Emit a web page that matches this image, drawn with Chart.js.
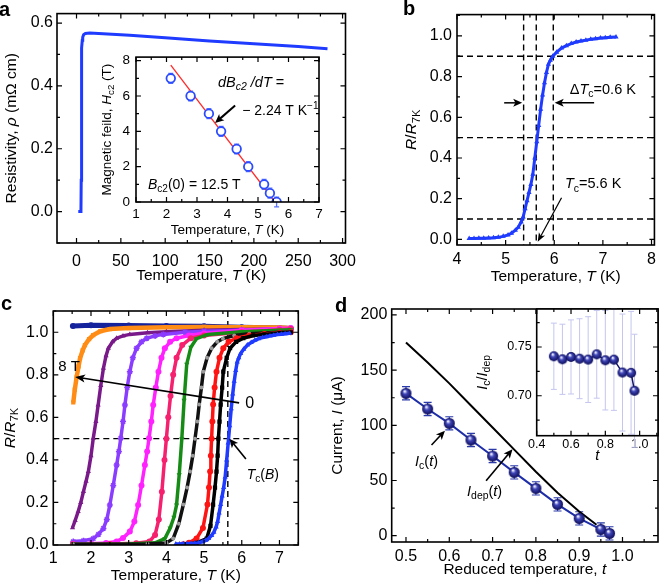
<!DOCTYPE html>
<html>
<head>
<meta charset="utf-8">
<script src="https://cdn.jsdelivr.net/npm/chart.js@4.4.0/dist/chart.umd.min.js"></script>
<style>
  body { margin: 0; background: #fff; width: 661px; height: 585px; position: relative; overflow: hidden; }
  canvas { position: absolute; }
</style>
</head>
<body>
<canvas id="a" width="365" height="290" style="left:0;top:0"></canvas>
<canvas id="ai" width="260" height="200" style="left:90px;top:43px"></canvas>
<canvas id="b" width="266" height="290" style="left:395px;top:0"></canvas>
<canvas id="c" width="305" height="290" style="left:0;top:295px"></canvas>
<canvas id="d" width="331" height="290" style="left:330px;top:295px"></canvas>
<canvas id="di" width="191" height="175" style="left:470px;top:295px"></canvas>
<script>
// ---- panel a: resistivity vs temperature
const aT = [2, 4.5, 5.0, 5.3, 5.5, 5.7, 6, 6.5, 7, 8, 10, 15, 30, 60, 100, 150, 200, 250, 283];
const aRho = [0, 0, 0.002, 0.1, 0.3, 0.45, 0.52, 0.545, 0.555, 0.563, 0.567, 0.568, 0.566, 0.561, 0.553, 0.543, 0.534, 0.525, 0.518];
const aXTicks = [0, 50, 100, 150, 200, 250, 300];
const aYTicks = [0, 0.2, 0.4, 0.6];

// ---- panel a inset: upper critical field
const hT = [2.14, 2.79, 3.39, 3.79, 4.30, 4.68, 5.20, 5.39, 5.61];
const hB = [7, 6, 5, 4, 3, 2, 1, 0.5, 0];
const hErr = [0.28, 0.28, 0.28, 0.28, 0.28, 0.28, 0.28, 0.28, 0.28];
const fitT = [2.14, 5.56];
const fitB = [7.74, 0];
const aiXTicks = [1, 2, 3, 4, 5, 6, 7];
const aiYTicks = [0, 2, 4, 6, 8];

// ---- panel b: zero-field transition
const bT = [4.25, 4.35, 4.45, 4.55, 4.65, 4.75, 4.85, 4.95, 5.05, 5.12, 5.2, 5.26, 5.32, 5.36, 5.40, 5.44, 5.48, 5.52, 5.56, 5.60, 5.64, 5.68, 5.72, 5.76, 5.80, 5.84, 5.88, 5.92, 5.97, 6.05, 6.15, 6.25, 6.35, 6.45, 6.55, 6.65, 6.75, 6.85, 6.95, 7.05, 7.15, 7.27];
const bR = [0.005, 0.005, 0.006, 0.006, 0.007, 0.008, 0.01, 0.015, 0.022, 0.03, 0.045, 0.06, 0.085, 0.11, 0.15, 0.19, 0.23, 0.27, 0.32, 0.40, 0.48, 0.56, 0.64, 0.71, 0.77, 0.82, 0.86, 0.88, 0.90, 0.92, 0.94, 0.952, 0.962, 0.97, 0.975, 0.979, 0.983, 0.986, 0.989, 0.991, 0.993, 0.995];
const bVLines = [5.37, 5.63, 5.98];
const bHLines = [0.1, 0.5, 0.9];
const bXTicks = [4, 5, 6, 7, 8];
const bYTicks = [0, 0.2, 0.4, 0.6, 0.8, 1.0];

// ---- panel c: transitions in field (0 T ... 8 T, plus normal state)
const c05T = [4.5, 4.8, 5.07, 5.17, 5.24, 5.29, 5.33, 5.36, 5.38, 5.41, 5.44, 5.48, 5.51, 5.6, 5.69, 5.85, 6.04, 6.3, 6.6, 7.0, 7.3];
const c05R = [0.004, 0.01, 0.03, 0.09, 0.19, 0.27, 0.345, 0.42, 0.5, 0.58, 0.66, 0.74, 0.815, 0.88, 0.925, 0.955, 0.972, 0.985, 0.99, 0.997, 1.0];
const c1T = [4.45, 4.6, 4.8, 4.97, 5.09, 5.13, 5.16, 5.18, 5.2, 5.22, 5.24, 5.28, 5.33, 5.41, 5.51, 5.65, 5.86, 6.2, 6.6, 7.0, 7.3];
const c1R = [0.004, 0.01, 0.03, 0.08, 0.19, 0.27, 0.345, 0.42, 0.5, 0.58, 0.66, 0.74, 0.815, 0.88, 0.925, 0.955, 0.972, 0.985, 0.992, 0.998, 1.0];
const c2T = [1.52, 3.5, 4.0, 4.18, 4.33, 4.45, 4.55, 4.63, 4.70, 4.76, 4.82, 4.87, 4.93, 4.98, 5.08, 5.2, 5.35, 5.5, 5.8, 6.2, 7.0, 7.3];
const c2R = [0.004, 0.005, 0.01, 0.03, 0.1, 0.19, 0.27, 0.345, 0.42, 0.5, 0.58, 0.66, 0.74, 0.815, 0.88, 0.925, 0.955, 0.97, 0.985, 0.993, 1.0, 1.0];
const c3T = [1.52, 3.0, 3.7, 3.96, 4.1, 4.2, 4.27, 4.34, 4.41, 4.47, 4.54, 4.65, 4.80, 5.1, 6.0, 7.0, 7.3];
const c3R = [0.004, 0.005, 0.01, 0.03, 0.08, 0.13, 0.188, 0.33, 0.5, 0.68, 0.85, 0.93, 0.97, 0.99, 1.003, 1.01, 1.012];
const c4T = [1.52, 2.5, 3.2, 3.55, 3.70, 3.80, 3.88, 3.95, 4.0, 4.05, 4.11, 4.18, 4.27, 4.42, 4.65, 5.0, 6.0, 7.0, 7.3];
const c4R = [0.004, 0.005, 0.008, 0.016, 0.047, 0.12, 0.25, 0.40, 0.5, 0.6, 0.7, 0.8, 0.88, 0.94, 0.972, 0.985, 1.0, 1.012, 1.015];
const c5T = [1.52, 2.0, 2.4, 2.68, 2.85, 3.03, 3.15, 3.25, 3.34, 3.43, 3.49, 3.54, 3.60, 3.65, 3.72, 3.79, 3.87, 3.96, 4.1, 4.27, 4.6, 5.0, 6.0, 7.0, 7.3];
const c5R = [0.005, 0.006, 0.009, 0.016, 0.033, 0.063, 0.11, 0.188, 0.28, 0.376, 0.44, 0.502, 0.58, 0.658, 0.74, 0.815, 0.88, 0.925, 0.955, 0.972, 0.985, 0.995, 1.01, 1.018, 1.02];
const c6T = [1.53, 1.8, 2.06, 2.2, 2.33, 2.42, 2.50, 2.59, 2.68, 2.74, 2.79, 2.85, 2.90, 2.96, 3.03, 3.11, 3.21, 3.34, 3.48, 3.7, 3.92, 4.5, 5.0, 6.0, 7.0, 7.3];
const c6R = [0.016, 0.02, 0.03, 0.05, 0.078, 0.12, 0.188, 0.28, 0.376, 0.44, 0.502, 0.58, 0.658, 0.74, 0.815, 0.88, 0.925, 0.955, 0.972, 0.983, 0.99, 1.0, 1.005, 1.01, 1.015, 1.015];
const c7T = [1.51, 1.58, 1.66, 1.73, 1.80, 1.87, 1.93, 2.0, 2.06, 2.13, 2.19, 2.26, 2.33, 2.40, 2.46, 2.57, 2.68, 2.85, 3.03, 3.5, 4.0, 5.0, 6.0, 7.0, 7.3];
const c7R = [0.081, 0.115, 0.157, 0.2, 0.251, 0.3, 0.345, 0.42, 0.502, 0.58, 0.658, 0.75, 0.831, 0.89, 0.925, 0.955, 0.972, 0.983, 0.99, 0.998, 1.003, 1.01, 1.013, 1.015, 1.015];
const c8T = [1.53, 1.57, 1.62, 1.67, 1.71, 1.78, 1.84, 1.95, 2.06, 2.25, 2.5, 3.0, 4.0, 5.0, 6.0, 7.0, 7.3];
const c8R = [0.67, 0.73, 0.79, 0.84, 0.878, 0.915, 0.94, 0.968, 0.987, 1.005, 1.015, 1.02, 1.024, 1.025, 1.024, 1.022, 1.02];
const c9T = [1.52, 2.0, 3.0, 4.0, 5.0, 6.0, 7.0, 7.3];
const c9R = [1.030, 1.033, 1.032, 1.030, 1.028, 1.024, 1.020, 1.018];
const cTc = 5.63;
const cHalf = 0.5;
const cXTicks = [1, 2, 3, 4, 5, 6, 7];
const cYTicks = [0, 0.2, 0.4, 0.6, 0.8, 1.0];

// ---- panel d: critical and depairing currents
const dT = [0.5, 0.55, 0.6, 0.65, 0.7, 0.75, 0.8, 0.85, 0.9, 0.95, 0.97];
const dIc = [129, 114.8, 101.8, 86.7, 72.2, 57.4, 42.9, 28.4, 15.7, 5.7, 2.1];
const dIcErr = [6, 6, 6, 6, 6, 6, 6, 6, 6, 6, 6];
const dTdep = [0.5, 0.55, 0.6, 0.65, 0.7, 0.75, 0.8, 0.85, 0.9, 0.94];
const dIdep = [175, 157, 138, 118, 98, 78, 58, 39, 22, 10];
const dRatio = [0.7405, 0.7374, 0.7398, 0.738, 0.7371, 0.7425, 0.7364, 0.737, 0.7238, 0.7235, 0.7051];
const dRatioErr = [0.034, 0.036, 0.038, 0.041, 0.044, 0.045, 0.051, 0.052, 0.06, 0.063, 0.058];
const dXTicks = [0.5, 0.6, 0.7, 0.8, 0.9, 1.0];
const dYTicks = [0, 50, 100, 150, 200];
const diXTicks = [0.4, 0.6, 0.8, 1.0];
const diYTicks = [0.70, 0.75];

const FONT = '"Liberation Sans", Arial, sans-serif';
Chart.defaults.font.family = FONT;
Chart.defaults.color = '#000';

const pts = (xs, ys) => xs.map((x, i) => ({x, y: ys[i]}));

function fontOf(size, fl) {
  return (fl.includes('i') ? 'italic ' : '') + size + 'px ' + FONT;
}

// text with italic / sub / sup runs: parts = ['plain', ['T', 'i'], ['c2', 'b'], ['-1', 'p']]
function rich(ctx, parts, x, y, size, align = 'left', rot = 0) {
  let w = 0;
  const runs = parts.map(p => {
    const [t, fl] = typeof p === 'string' ? [p, ''] : p;
    const s = /[bp]/.test(fl) ? size * 0.72 : size;
    ctx.font = fontOf(s, fl);
    const r = {t, fl, s, w: ctx.measureText(t).width,
      dy: fl.includes('b') ? size * 0.3 : fl.includes('p') ? -size * 0.38 : 0};
    w += r.w;
    return r;
  });
  ctx.save();
  ctx.translate(x, y);
  if (rot) ctx.rotate(rot);
  let cx = align === 'center' ? -w / 2 : align === 'right' ? -w : 0;
  ctx.textAlign = 'left';
  ctx.textBaseline = 'middle';
  ctx.fillStyle = '#000';
  for (const r of runs) {
    ctx.font = fontOf(r.s, r.fl);
    ctx.fillText(r.t, cx, r.dy);
    cx += r.w;
  }
  ctx.restore();
}

function arrow(ctx, x1, y1, x2, y2, lw = 1.5, hl = 9, hw = 4) {
  const ang = Math.atan2(y2 - y1, x2 - x1);
  ctx.save();
  ctx.strokeStyle = ctx.fillStyle = '#000';
  ctx.lineWidth = lw;
  ctx.beginPath();
  ctx.moveTo(x1, y1);
  ctx.lineTo(x2 - hl * 0.7 * Math.cos(ang), y2 - hl * 0.7 * Math.sin(ang));
  ctx.stroke();
  ctx.translate(x2, y2);
  ctx.rotate(ang);
  ctx.beginPath();
  ctx.moveTo(0, 0);
  ctx.lineTo(-hl, -hw);
  ctx.lineTo(-hl * 0.75, 0);
  ctx.lineTo(-hl, hw);
  ctx.closePath();
  ctx.fill();
  ctx.restore();
}

function panelLabel(ctx, t, x, y) {
  ctx.save();
  ctx.font = 'bold 20px ' + FONT;
  ctx.fillStyle = '#000';
  ctx.textBaseline = 'alphabetic';
  ctx.fillText(t, x, y);
  ctx.restore();
}

// box frame with inward major/minor ticks on all four sides
const frame = {
  id: 'frame',
  beforeDatasetsDraw(chart, args, o) {
    if (!o.white) return;
    const a = chart.chartArea;
    chart.ctx.save();
    chart.ctx.fillStyle = '#fff';
    chart.ctx.fillRect(a.left, a.top, a.width, a.height);
    chart.ctx.restore();
  },
  afterDatasetsDraw(chart) {
    const {ctx, chartArea: a, scales: {x, y}} = chart;
    const marks = s => {
      const maj = s.ticks.map(t => t.value);
      const step = (maj[1] - maj[0]) / 2;
      const out = [];
      for (let k = -4; k < 100; k++) {
        const v = maj[0] + k * step;
        if (v > s.max + 1e-9) break;
        if (v >= s.min - 1e-9) out.push([s.getPixelForValue(v), k % 2 === 0 ? 5 : 3]);
      }
      return out;
    };
    ctx.save();
    ctx.strokeStyle = '#000';
    ctx.lineWidth = 1.2;
    ctx.beginPath();
    for (const [px, l] of marks(x)) {
      ctx.moveTo(px, a.bottom); ctx.lineTo(px, a.bottom - l);
      ctx.moveTo(px, a.top); ctx.lineTo(px, a.top + l);
    }
    for (const [py, l] of marks(y)) {
      ctx.moveTo(a.left, py); ctx.lineTo(a.left + l, py);
      ctx.moveTo(a.right, py); ctx.lineTo(a.right - l, py);
    }
    ctx.stroke();
    ctx.lineWidth = 1.6;
    ctx.strokeRect(a.left, a.top, a.right - a.left, a.bottom - a.top);
    ctx.restore();
  }
};

// dashed guide lines at given data values
const dashes = {
  id: 'dashes',
  beforeDatasetsDraw(chart, args, o) {
    if (!o.v && !o.h) return;
    const {ctx, chartArea: a, scales: {x, y}} = chart;
    ctx.save();
    ctx.strokeStyle = '#000';
    ctx.lineWidth = 1.4;
    ctx.setLineDash([6, 4]);
    ctx.beginPath();
    (o.v || []).forEach(v => { const p = x.getPixelForValue(v); ctx.moveTo(p, a.top); ctx.lineTo(p, a.bottom); });
    (o.h || []).forEach(v => { const p = y.getPixelForValue(v); ctx.moveTo(a.left, p); ctx.lineTo(a.right, p); });
    ctx.stroke();
    ctx.restore();
  }
};

// vertical error bars from dataset.err
const errs = {
  id: 'errs',
  beforeDatasetsDraw(chart) {
    const {ctx, scales: {x, y}} = chart;
    chart.data.datasets.forEach(ds => {
      if (!ds.err) return;
      ctx.save();
      ctx.strokeStyle = ds.errColor;
      ctx.lineWidth = ds.errWidth || 1;
      ctx.beginPath();
      ds.data.forEach((p, j) => {
        const px = x.getPixelForValue(p.x);
        const y1 = y.getPixelForValue(p.y - ds.err[j]);
        const y2 = y.getPixelForValue(p.y + ds.err[j]);
        ctx.moveTo(px, y1); ctx.lineTo(px, y2);
        ctx.moveTo(px - ds.cap, y1); ctx.lineTo(px + ds.cap, y1);
        ctx.moveTo(px - ds.cap, y2); ctx.lineTo(px + ds.cap, y2);
      });
      ctx.stroke();
      ctx.restore();
    });
  }
};

Chart.register(frame, dashes, errs);

function axis(pos, min, max, ticks, fmt, size, room, pad) {
  return {
    type: 'linear', position: pos, min, max,
    grid: {display: false, drawTicks: false},
    border: {display: false},
    afterBuildTicks: s => { s.ticks = ticks.map(v => ({value: v})); },
    afterFit: s => { if (pos === 'left') s.width = room; else s.height = room; },
    ticks: {font: {size}, color: '#000', padding: pad, maxRotation: 0, autoSkip: false, callback: v => fmt(v)}
  };
}

function options(x, y, top, right, plugins = {}) {
  return {
    responsive: false, animation: false, devicePixelRatio: 1, events: [],
    layout: {autoPadding: false, padding: {top, right, bottom: 0, left: 0}},
    plugins: Object.assign({legend: {display: false}, tooltip: {enabled: false}}, plugins),
    scales: {x, y}
  };
}

function notes(fn) {
  return {
    id: 'notes',
    afterDraw(chart) {
      const {ctx, chartArea: a, scales: {x, y}} = chart;
      fn(ctx, a, v => x.getPixelForValue(v), v => y.getPixelForValue(v));
    }
  };
}

function sphere(r) {
  const c = document.createElement('canvas');
  c.width = c.height = 2 * r + 2;
  const g = c.getContext('2d');
  const grd = g.createRadialGradient(r * 0.75 + 1, r * 0.6 + 1, r * 0.1, r + 1, r + 1, r);
  grd.addColorStop(0, '#eef0ff');
  grd.addColorStop(0.35, '#4046b8');
  grd.addColorStop(1, '#0c0c5a');
  g.fillStyle = grd;
  g.beginPath();
  g.arc(r + 1, r + 1, r, 0, Math.PI * 2);
  g.fill();
  return c;
}

const f1 = v => v.toFixed(1);
const f0 = v => v.toFixed(0);
const f2 = v => v.toFixed(2);
const tempTitle = ['Temperature, ', ['T', 'i'], ' (K)'];
const rTitle = [['R', 'i'], '/', ['R', 'i'], ['7K', 'b']];
const up = -Math.PI / 2;

// ---------- panel a
new Chart(document.getElementById('a'), {
  type: 'scatter',
  data: {datasets: [{data: pts(aT, aRho), showLine: true, borderColor: '#1f3bff', borderWidth: 3, pointRadius: 0}]},
  options: options(axis('bottom', -22, 303.3, aXTicks, f0, 16, 47, 9), axis('left', -0.1, 0.63, aYTicks, f1, 16, 57, 4), 10, 8),
  plugins: [notes((ctx, a) => {
    panelLabel(ctx, 'a', -1, 16);
    rich(ctx, tempTitle, (a.left + a.right) / 2, a.bottom + 33, 15.5, 'center');
    rich(ctx, ['Resistivity, ', ['ρ', 'i'], ' (mΩ cm)'], a.left - 45, (a.top + a.bottom) / 2, 15.5, 'center', up);
  })]
});

// ---------- panel a inset
new Chart(document.getElementById('ai'), {
  type: 'scatter',
  data: {datasets: [
    {data: pts(hT, hB), showLine: false, pointRadius: 4.3, borderWidth: 1.8, pointBorderColor: '#2a4bff', pointBackgroundColor: '#fff',
      err: hErr, errColor: '#5a74ff', errWidth: 1.3, cap: 2.5},
    {data: pts(fitT, fitB), showLine: true, borderColor: '#ff2a2a', borderWidth: 1.3, pointRadius: 0}
  ]},
  options: options(axis('bottom', 1, 7, aiXTicks, f0, 13.5, 41, 4), axis('left', 0, 8.2, aiYTicks, f0, 13.5, 46, 6), 10, 31),
  plugins: [notes((ctx, a, X, Y) => {
    rich(ctx, tempTitle, (a.left + a.right) / 2, a.bottom + 28, 13.5, 'center');
    rich(ctx, ['Magnetic feild, ', ['H', 'i'], ['c2', 'b'], ' (T)'], a.left - 29, (a.top + a.bottom) / 2, 13.5, 'center', up);
    rich(ctx, [['dB', 'i'], ['c2', 'ib'], [' /dT', 'i'], ' ='], X(3.69), Y(6.73), 14.5);
    rich(ctx, ['− 2.24 T K', ['−1', 'p']], X(4.48), Y(5.13), 14);
    rich(ctx, [['B', 'i'], ['c2', 'b'], '(0) = 12.5 T'], X(1.39), Y(0.94), 14);
    arrow(ctx, X(4.25), Y(5.46), X(3.59), Y(4.47), 2, 9, 4);
  })]
});

// ---------- panel b
new Chart(document.getElementById('b'), {
  type: 'scatter',
  data: {datasets: [{data: pts(bT, bR), showLine: true, borderColor: '#1f3bff', borderWidth: 3,
    pointStyle: 'triangle', pointRadius: 3, pointBorderWidth: 0, pointBackgroundColor: '#1f3bff'}]},
  options: options(axis('bottom', 4, 8.06, bXTicks, f0, 16, 45, 5), axis('left', -0.0275, 1.1045, bYTicks, f1, 16, 62, 5), 10, 3,
    {dashes: {v: bVLines, h: bHLines}}),
  plugins: [notes((ctx, a, X, Y) => {
    panelLabel(ctx, 'b', 8, 15);
    rich(ctx, tempTitle, (a.left + a.right) / 2, a.bottom + 32, 15.5, 'center');
    rich(ctx, rTitle, a.left - 45, (a.top + a.bottom) / 2, 15.5, 'center', up);
    rich(ctx, ['Δ', ['T', 'i'], ['c', 'b'], '=0.6 K'], X(6.32), Y(0.735), 14.5);
    rich(ctx, [['T', 'i'], ['c', 'b'], '=5.6 K'], X(6.22), Y(0.27), 14.5);
    arrow(ctx, X(4.97), Y(0.671), X(5.34), Y(0.671), 1.5, 9, 4);
    arrow(ctx, X(6.82), Y(0.671), X(6.01), Y(0.671), 1.5, 9, 4);
    arrow(ctx, X(6.15), Y(0.205), X(5.66), Y(-0.012), 1.2, 9, 3.5);
  })]
});

// ---------- panel c
const cCurve = (xs, ys, color, style, rot = 0, bw = 3.5) => ({
  data: pts(xs, ys), showLine: true, borderColor: color, borderWidth: bw,
  pointStyle: style, pointRotation: rot, pointRadius: 3, pointBorderWidth: style === 'star' ? 1.5 : 0,
  pointBorderColor: color, pointBackgroundColor: color
});
new Chart(document.getElementById('c'), {
  type: 'scatter',
  data: {datasets: [
    cCurve(bT, bR, '#1f3bff', 'triangle'),
    cCurve(c05T, c05R, '#000000', 'rect'),
    cCurve(c1T, c1R, '#ff1414', 'circle'),
    Object.assign(cCurve(c2T, c2R, '#111111', 'circle'), {pointBackgroundColor: '#9a9a9a', pointRadius: 2}),
    cCurve(c3T, c3R, '#168c16', 'triangle', 180),
    cCurve(c4T, c4R, '#f5206e', 'circle'),
    cCurve(c5T, c5R, '#ff22ff', 'circle'),
    cCurve(c6T, c6R, '#8a3cff', 'star'),
    cCurve(c7T, c7R, '#7a1a8a', 'triangle'),
    cCurve(c8T, c8R, '#ff8c14', 'rect', 0, 4.5),
    cCurve(c9T, c9R, '#14229c', 'circle', 0, 5)
  ]},
  options: options(axis('bottom', 1, 7.5, cXTicks, f0, 16, 40, 4), axis('left', 0, 1.1, cYTicks, f1, 16, 53.3, 5), 16, 6.7,
    {dashes: {v: [cTc], h: [cHalf]}}),
  plugins: [notes((ctx, a, X, Y) => {
    panelLabel(ctx, 'c', 1, 15);
    rich(ctx, tempTitle, (a.left + a.right) / 2, a.bottom + 31, 15.5, 'center');
    rich(ctx, rTitle, a.left - 43, (a.top + a.bottom) / 2, 15.5, 'center', up);
    rich(ctx, ['8 T'], X(1.13), Y(0.837), 15);
    rich(ctx, ['0'], X(6.09), Y(0.663), 16);
    rich(ctx, [['T', 'i'], ['c', 'b'], '(', ['B', 'i'], ')'], X(6.13), Y(0.33), 14);
    arrow(ctx, X(5.93), Y(0.668), X(1.58), Y(0.79), 1.6, 10, 4);
    arrow(ctx, X(6.11), Y(0.404), X(5.67), Y(0.50), 1.6, 9, 4);
  })]
});

// ---------- panel d
new Chart(document.getElementById('d'), {
  type: 'scatter',
  data: {datasets: [
    {data: pts(dT, dIc), showLine: true, borderColor: '#1e2ea8', borderWidth: 2, pointStyle: sphere(5.5), pointRadius: 5.5,
      err: dIcErr, errColor: '#2a3aa8', errWidth: 1.2, cap: 4},
    {data: pts(dTdep, dIdep), showLine: true, borderColor: '#000', borderWidth: 2, pointRadius: 0}
  ]},
  options: options(axis('bottom', 0.467, 1.082, dXTicks, f1, 16, 43, 5), axis('left', -5.7, 205.4, dYTicks, f0, 16, 61.7, 4.4), 14, 3),
  plugins: [notes((ctx, a, X, Y) => {
    panelLabel(ctx, 'd', 5, 17);
    rich(ctx, ['Reduced temperature, ', ['t', 'i']], (a.left + a.right) / 2, a.bottom + 28, 15.5, 'center');
    rich(ctx, ['Current, ', ['I', 'i'], ' (μA)'], a.left - 54, (a.top + a.bottom) / 2, 15.5, 'center', up);
    rich(ctx, [['I', 'i'], ['c', 'b'], '(', ['t', 'i'], ')'], X(0.521), Y(66.8), 14.5);
    rich(ctx, [['I', 'i'], ['dep', 'b'], '(', ['t', 'i'], ')'], X(0.641), Y(39.6), 14.5);
    arrow(ctx, X(0.559), Y(82.2), X(0.59), Y(95.2), 1.6, 9, 4);
    arrow(ctx, X(0.685), Y(49.8), X(0.746), Y(78.3), 1.6, 9, 4);
  })]
});

// ---------- panel d inset
new Chart(document.getElementById('di'), {
  type: 'scatter',
  data: {datasets: [
    {data: pts(dT, dRatio), showLine: true, borderColor: '#121268', borderWidth: 1.5, pointStyle: sphere(5), pointRadius: 5,
      err: dRatioErr, errColor: '#c4c6ee', errWidth: 1, cap: 3}
  ]},
  options: options(axis('bottom', 0.4, 1.107, diXTicks, f1, 12.5, 34.3, 1.5), axis('left', 0.659, 0.789, diYTicks, f2, 12.5, 66.7, 5), 14, 3,
    {frame: {white: true}}),
  plugins: [notes((ctx, a) => {
    rich(ctx, [['t', 'i']], (a.left + a.right) / 2, a.bottom + 20, 14.5, 'center');
    rich(ctx, [['I', 'i'], ['c', 'b'], '/', ['I', 'i'], ['dep', 'b']], a.left - 53.5, (a.top + a.bottom) / 2, 14.5, 'center', up);
  })]
});
</script>
</body>
</html>
